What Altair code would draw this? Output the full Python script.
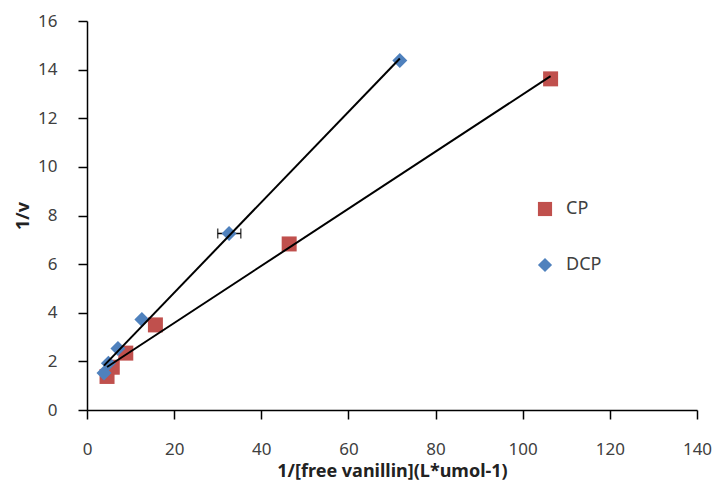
import altair as alt
import pandas as pd

# CP series (red squares)
cp_x = [4.6, 5.8, 8.9, 15.7, 46.4, 106.4]
cp_y = [1.38, 1.76, 2.34, 3.5, 6.83, 13.62]
# DCP series (blue diamonds)
dcp_x = [3.9, 4.9, 7.1, 12.6, 32.6, 71.8]
dcp_y = [1.52, 1.92, 2.53, 3.72, 7.26, 14.38]
# horizontal error bar on one DCP point
err_y = [7.26]
err_lo = [30.0]
err_hi = [35.3]

series_names = ["CP", "DCP"]
series_colors = ["#C0504D", "#4F81BD"]
series_shapes = ["square", "diamond"]

df = pd.DataFrame({
    "x": cp_x + dcp_x,
    "y": cp_y + dcp_y,
    "series": ["CP"] * len(cp_x) + ["DCP"] * len(dcp_x),
})
err_df = pd.DataFrame({"y": err_y, "lo": err_lo, "hi": err_hi})

FONT = "Noto Sans"

xscale = alt.Scale(domain=[0, 140], nice=False, zero=False)
yscale = alt.Scale(domain=[0, 16], nice=False, zero=False)

xaxis = alt.Axis(values=list(range(0, 141, 20)), title="1/[free vanillin](L*umol-1)",
                 grid=False, tickSize=9, labelPadding=22, titlePadding=5, labelFlush=False)
yaxis = alt.Axis(values=list(range(0, 17, 2)), title="1/v", grid=False,
                 tickSize=9, labelPadding=21, titlePadding=5, labelFlush=False)

base = alt.Chart(df)

points = base.mark_point(filled=True, size=225, opacity=1).encode(
    x=alt.X("x:Q", scale=xscale, axis=xaxis),
    y=alt.Y("y:Q", scale=yscale, axis=yaxis),
    color=alt.Color("series:N", scale=alt.Scale(domain=series_names, range=series_colors),
                    legend=alt.Legend(title=None, orient="none", legendX=449, legendY=179,
                                      rowPadding=38, padding=0, symbolSize=200,
                                      labelFontSize=18, labelFont=FONT, labelColor="#404040",
                                      labelOffset=12)),
    shape=alt.Shape("series:N", scale=alt.Scale(domain=series_names, range=series_shapes)),
)

lines = base.transform_regression("x", "y", groupby=["series"]).mark_line(
    color="black", strokeWidth=2
).encode(
    x=alt.X("x:Q", scale=xscale),
    y=alt.Y("y:Q", scale=yscale),
    detail="series:N",
)

err_base = alt.Chart(err_df)
err_rule = err_base.mark_rule(color="black", strokeWidth=1.5).encode(
    x=alt.X("lo:Q", scale=xscale), x2="hi:Q", y=alt.Y("y:Q", scale=yscale)
)
cap_lo = err_base.mark_tick(color="black", orient="vertical", size=10, thickness=1.5).encode(
    x=alt.X("lo:Q", scale=xscale), y=alt.Y("y:Q", scale=yscale)
)
cap_hi = err_base.mark_tick(color="black", orient="vertical", size=10, thickness=1.5).encode(
    x=alt.X("hi:Q", scale=xscale), y=alt.Y("y:Q", scale=yscale)
)

chart = alt.layer(err_rule, cap_lo, cap_hi, points, lines).properties(
    width=610, height=389,
    autosize=alt.AutoSizeParams(type="none"),
    padding={"left": 87, "top": 21, "right": 20, "bottom": 78},
    background="white",
).configure_view(stroke=None).configure_axis(
    domainColor="black", domainWidth=1.5, tickColor="black", tickWidth=1.5,
    labelFont=FONT, labelFontSize=17, labelColor="#404040",
    titleFont=FONT, titleFontSize=18, titleFontWeight="bold", titleColor="#222222",
)

chart.save("out.html", embed_options={"renderer": "svg", "actions": False})
